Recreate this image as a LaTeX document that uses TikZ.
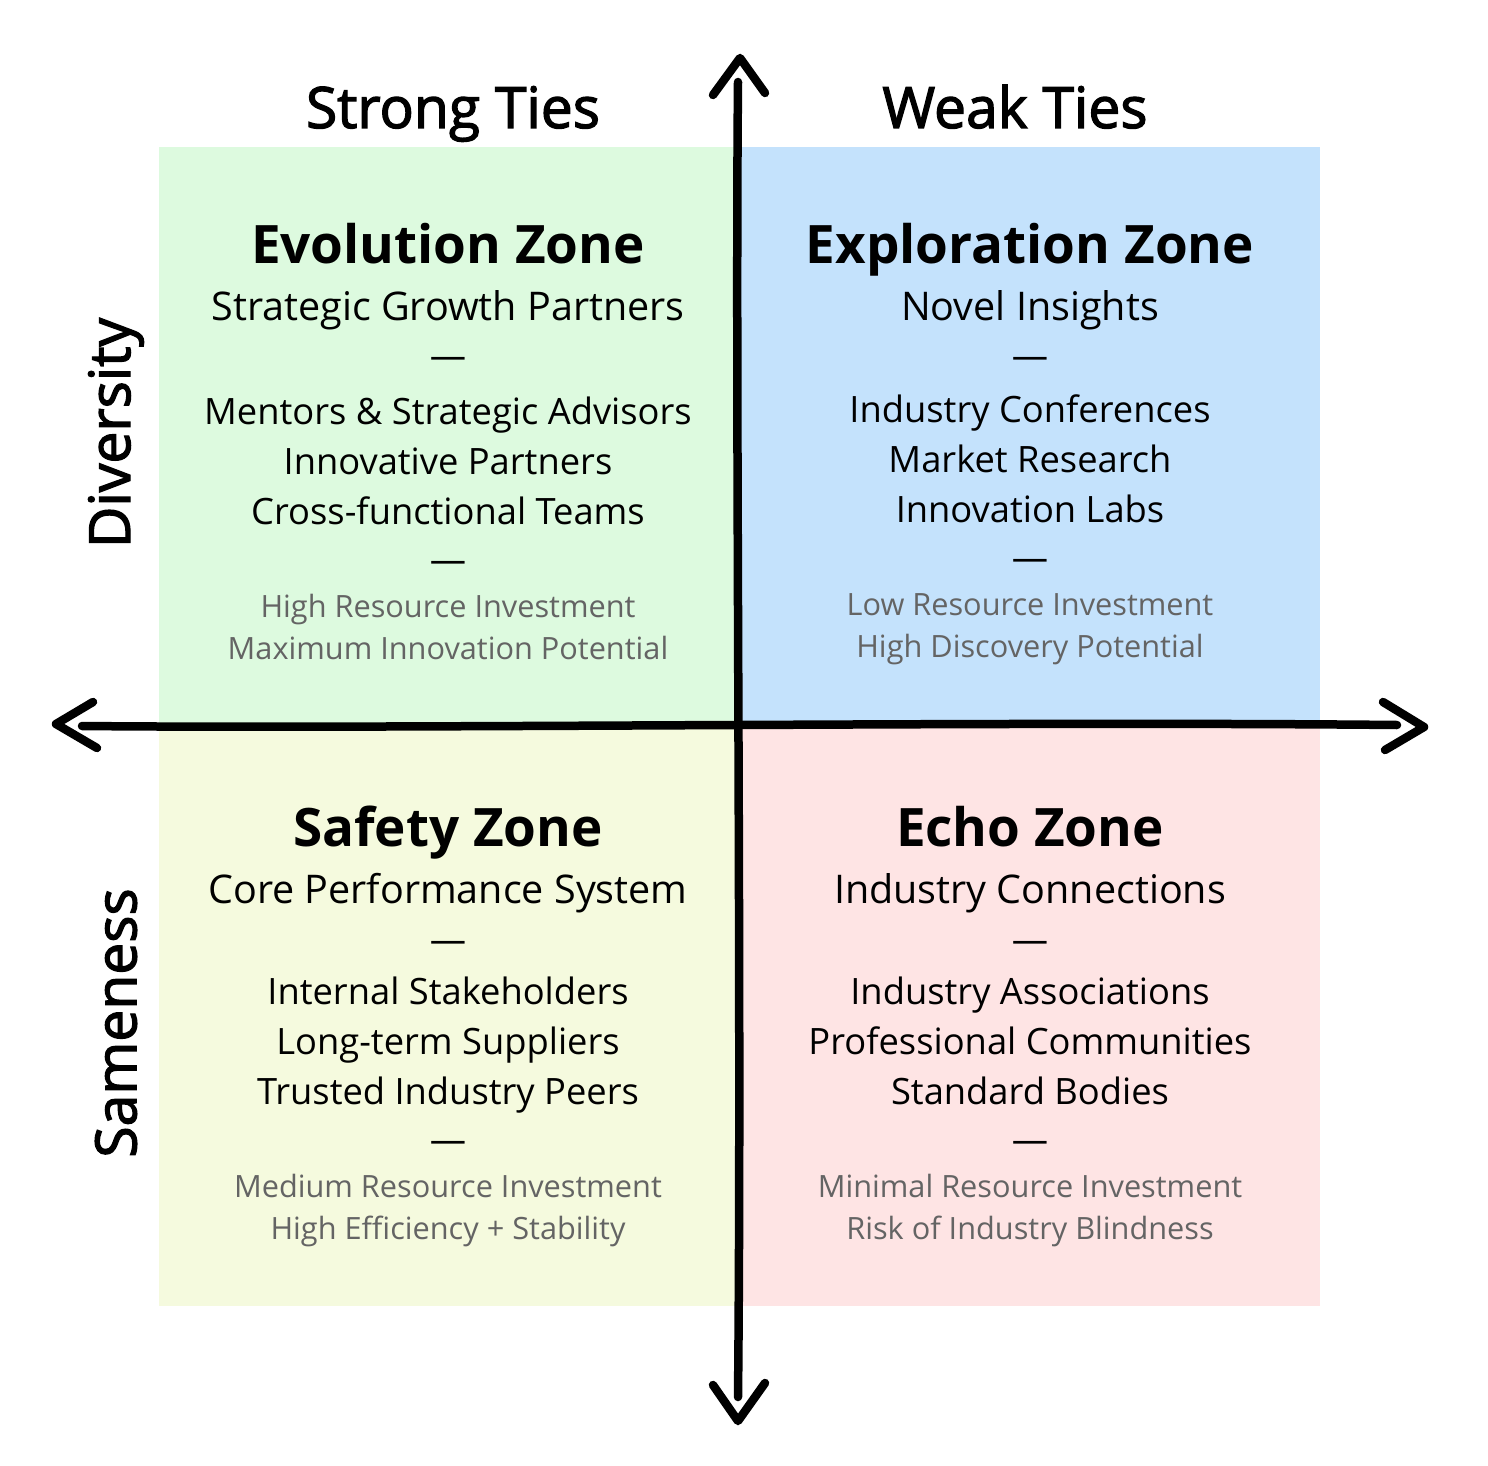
\documentclass[tikz,border=0pt]{standalone}
\usepackage{fontspec}
\setmainfont{Open Sans}
\newfontfamily\semib[FakeBold=2.2]{Open Sans}
\definecolor{qgreen}{RGB}{221,250,223}
\definecolor{qblue}{RGB}{196,226,252}
\definecolor{qyellow}{RGB}{245,250,222}
\definecolor{qpink}{RGB}{254,228,228}
\definecolor{greytxt}{RGB}{100,100,100}
\tikzset{
  zonetitle/.style={anchor=base, font=\fontsize{53}{60}\selectfont\bfseries},
  subtitle/.style={anchor=base, font=\fontsize{39.5}{44}\selectfont},
  item/.style={anchor=base, font=\fontsize{36.3}{42}\selectfont},
  note/.style={anchor=base, font=\fontsize{30.7}{36}\selectfont, text=greytxt},
  heading/.style={anchor=base, font=\fontsize{57}{64}\selectfont\semib},
  axislabel/.style={font=\fontsize{57}{64}\selectfont\semib, rotate=90},
  axisline/.style={line width=8.5pt, line cap=round, line join=round},
}
\begin{document}
\begin{tikzpicture}[x=1pt,y=-1pt]
\useasboundingbox (0,0) rectangle (1488,1466);
% quadrants
\fill[qgreen] (159,147) rectangle (738,725);
\fill[qblue] (738,147) rectangle (1320,725);
\fill[qyellow] (159,725) rectangle (738,1306);
\fill[qpink] (738,725) rectangle (1320,1306);

% axes
\coordinate (top) at (738,82);
\coordinate (bottom) at (738,1397);
\coordinate (left) at (82,726);
\coordinate (right) at (1397,725);
\draw[axisline] (top) .. controls (735,400) and (742,1000) .. (bottom);
\draw[axisline] (left) .. controls (400,729) and (1000,721) .. (right);
% arrowheads
\draw[axisline] (713,95) -- (740,58) -- (765,93);
\draw[axisline] (713,1385) -- (738,1421) -- (765,1383);
\draw[axisline] (93,702) -- (56,724) -- (97,748);
\draw[axisline] (1383,702) -- (1424,727) -- (1385,750);

% headings
\node[heading] (strong) at (453,128) {Strong Ties};
\node[heading] (weak) at (1015,128) {Weak Ties};
\node[axislabel] (div) at (116,433) {Diversity};
\node[axislabel] (same) at (116,1023) {Sameness};

% Evolution zone
\node[zonetitle] (evt) at (448,263) {Evolution Zone};
\node[subtitle] (evs) at (448,320) {Strategic Growth Partners};
\node[item] (evd1) at (448,368) {—};
\node[item] (ev1) at (448,424) {Mentors \& Strategic Advisors};
\node[item] (ev2) at (448,474) {Innovative Partners};
\node[item] (ev3) at (448,524) {Cross-functional Teams};
\node[item] (evd2) at (448,572) {—};
\node[note] (evn1) at (448,617) {High Resource Investment};
\node[note] (evn2) at (448,659) {Maximum Innovation Potential};

% Exploration zone
\node[zonetitle] (ext) at (1030,263) {Exploration Zone};
\node[subtitle] (exs) at (1030,320) {Novel Insights};
\node[item] (exd1) at (1030,368) {—};
\node[item] (ex1) at (1030,422) {Industry Conferences};
\node[item] (ex2) at (1030,472) {Market Research};
\node[item] (ex3) at (1030,522) {Innovation Labs};
\node[item] (exd2) at (1030,570) {—};
\node[note] (exn1) at (1030,615) {Low Resource Investment};
\node[note] (exn2) at (1030,657) {High Discovery Potential};

% Safety zone
\node[zonetitle] (sat) at (448,846) {Safety Zone};
\node[subtitle] (sas) at (448,903) {Core Performance System};
\node[item] (sad1) at (448,952) {—};
\node[item] (sa1) at (448,1004) {Internal Stakeholders};
\node[item] (sa2) at (448,1054) {Long-term Suppliers};
\node[item] (sa3) at (448,1104) {Trusted Industry Peers};
\node[item] (sad2) at (448,1152) {—};
\node[note] (san1) at (448,1197) {Medium Resource Investment};
\node[note] (san2) at (448,1239) {High Efficiency + Stability};

% Echo zone
\node[zonetitle] (ect) at (1030,846) {Echo Zone};
\node[subtitle] (ecs) at (1030,903) {Industry Connections};
\node[item] (ecd1) at (1030,952) {—};
\node[item] (ec1) at (1030,1004) {Industry Associations};
\node[item] (ec2) at (1030,1054) {Professional Communities};
\node[item] (ec3) at (1030,1104) {Standard Bodies};
\node[item] (ecd2) at (1030,1152) {—};
\node[note] (ecn1) at (1030,1197) {Minimal Resource Investment};
\node[note] (ecn2) at (1030,1239) {Risk of Industry Blindness};
\end{tikzpicture}
\end{document}
